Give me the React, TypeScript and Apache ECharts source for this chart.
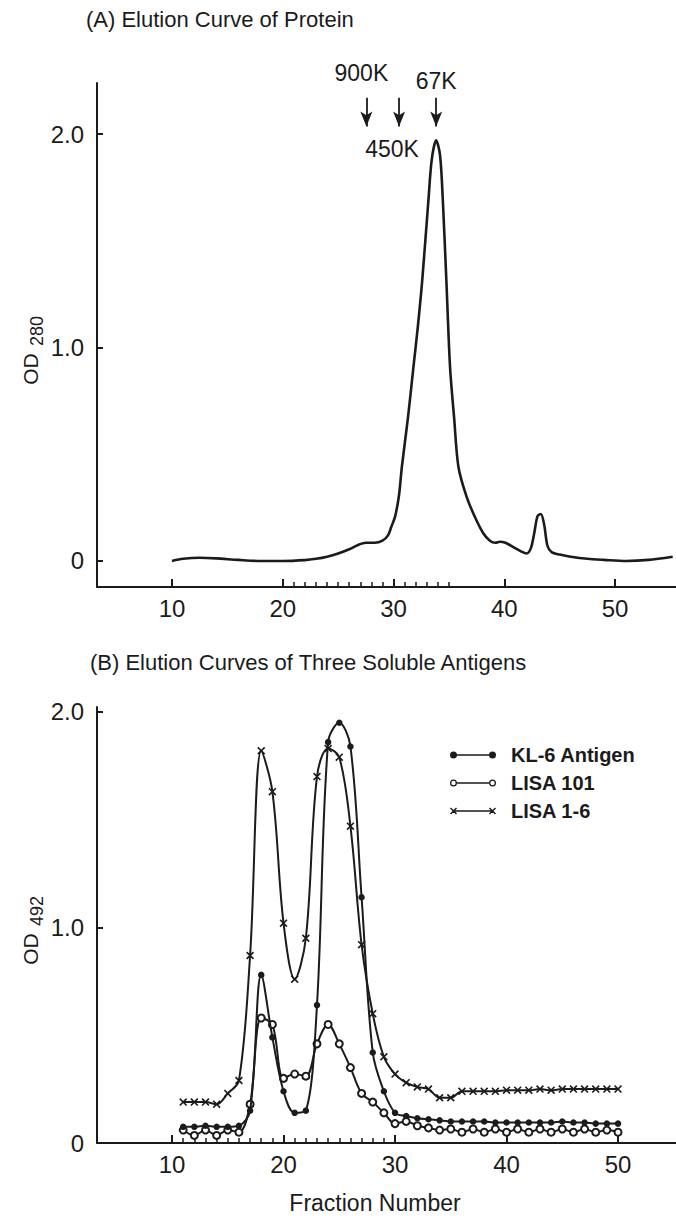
import React, { useEffect, useRef } from "react";
import * as echarts from "echarts";

// ---- Panel A: elution curve of protein (OD280) ----
const proteinFraction = [
  10, 11, 12.5, 14, 16, 18, 20, 22, 23, 24, 25, 26, 26.8, 27.5, 28.3, 29.0, 29.5, 29.8,
  30.15, 30.5, 30.75, 31.3, 31.8, 32.2, 32.6, 33.15, 33.45, 33.85, 34.2, 34.45, 34.78,
  35.1, 35.47, 35.86, 36.6, 37.4, 38.1, 38.7, 39.2, 39.6, 40.1, 40.8, 41.5,
  42.0, 42.4, 42.7, 43.0, 43.3, 43.6, 43.9, 44.3, 45, 46, 47.5, 49, 51, 53, 55.2,
];
const proteinOD = [
  0.0, 0.01, 0.015, 0.012, 0.005, 0.0, 0.0, 0.004, 0.01, 0.02, 0.035, 0.055, 0.075, 0.085,
  0.085, 0.095, 0.12, 0.16, 0.21, 0.31, 0.44, 0.67, 0.91, 1.1, 1.32, 1.69, 1.88, 1.97, 1.9,
  1.69, 1.3, 0.91, 0.67, 0.44, 0.3, 0.2, 0.13, 0.095, 0.085, 0.09, 0.085, 0.065, 0.045,
  0.035, 0.06, 0.13, 0.21, 0.22, 0.17, 0.07, 0.04, 0.03, 0.02, 0.01, 0.005, 0.0, 0.005,
  0.02,
];
// molecular-weight markers (fraction where each arrow points)
const markerNames = ["900K", "450K", "67K"];
const markerFraction = [27.55, 30.5, 33.85];
const arrowFrom = 2.17;
const arrowTo = 2.035;

// ---- Panel B: three soluble antigens (OD492) ----
const fractions = [
  11, 12, 13, 14, 15, 16, 17, 18, 19, 20, 21, 22, 23, 24, 25, 26, 27, 28, 29, 30,
  31, 32, 33, 34, 35, 36, 37, 38, 39, 40, 41, 42, 43, 44, 45, 46, 47, 48, 49, 50,
];
const kl6Antigen = [
  0.075, 0.075, 0.08, 0.075, 0.075, 0.08, 0.15, 0.78, 0.49, 0.24, 0.14, 0.15, 0.64, 1.86,
  1.95, 1.84, 1.14, 0.42, 0.24, 0.14, 0.125, 0.115, 0.11, 0.105, 0.1, 0.1, 0.1, 0.1, 0.095,
  0.095, 0.095, 0.095, 0.095, 0.095, 0.1, 0.095, 0.095, 0.09, 0.09, 0.09,
];
const lisa101 = [
  0.06, 0.035, 0.06, 0.035, 0.06, 0.05, 0.18, 0.58, 0.55, 0.3, 0.32, 0.31, 0.46, 0.55, 0.46,
  0.35, 0.23, 0.19, 0.14, 0.09, 0.1, 0.08, 0.07, 0.06, 0.065, 0.05, 0.065, 0.05, 0.065, 0.05,
  0.065, 0.05, 0.065, 0.05, 0.065, 0.05, 0.065, 0.05, 0.06, 0.05,
];
const lisa16 = [
  0.19, 0.19, 0.19, 0.18, 0.23, 0.29, 0.87, 1.82, 1.63, 1.02, 0.76, 0.95, 1.7, 1.83, 1.79,
  1.47, 0.92, 0.6, 0.4, 0.32, 0.28, 0.26, 0.25, 0.21, 0.21, 0.24, 0.24, 0.24, 0.24, 0.245,
  0.245, 0.245, 0.25, 0.245, 0.25, 0.25, 0.25, 0.25, 0.25, 0.25,
];

// ---- axis ticks ----
const majorTicks = [10, 20, 30, 40, 50];
const minorTicksA = [21, 22, 23, 24, 25, 26, 27, 28, 29, 31, 32, 33, 34, 35];
const minorTicksB = [11, 12, 13, 14, 15, 16, 17, 18, 19, 21, 22, 23, 24, 25, 26, 27, 28, 29];
const yTicks = [0, 1, 2];

const INK = "#1b1b1b";
const TICK_FONT = "'Liberation Sans', Arial, sans-serif";
const TEXT_FONT = "'Liberation Sans', Arial, sans-serif";

const CROSS = "path://M0,1 L1,0 L7,6 L6,7 Z M6,0 L7,1 L1,7 L0,6 Z";
const ICON_FILLED =
  "path://M0,3.5 A3.5,3.5 0 1,1 7,3.5 A3.5,3.5 0 1,1 0,3.5 Z M39,3.5 A3.5,3.5 0 1,1 46,3.5 A3.5,3.5 0 1,1 39,3.5 Z M3.5,2.7 L42.5,2.7 L42.5,4.3 L3.5,4.3 Z";
const ICON_OPEN =
  "path://M0,3.5 A3.5,3.5 0 1,1 7,3.5 A3.5,3.5 0 1,1 0,3.5 Z M1.3,3.5 A2.2,2.2 0 1,0 5.7,3.5 A2.2,2.2 0 1,0 1.3,3.5 Z M39,3.5 A3.5,3.5 0 1,1 46,3.5 A3.5,3.5 0 1,1 39,3.5 Z M40.3,3.5 A2.2,2.2 0 1,0 44.7,3.5 A2.2,2.2 0 1,0 40.3,3.5 Z M7,2.7 L39,2.7 L39,4.3 L7,4.3 Z";
const ICON_CROSS =
  "path://M0,1 L1,0 L7,6 L6,7 Z M6,0 L7,1 L1,7 L0,6 Z M39,1 L40,0 L46,6 L45,7 Z M45,0 L46,1 L40,7 L39,6 Z M3.5,2.8 L42.5,2.8 L42.5,4.2 L3.5,4.2 Z";

const fmtY = (v: number) => (v === 0 ? "0" : v.toFixed(1));

// label placement for each arrow: [position, distance, right padding to shift left]
const markerLabelPlace: [string, number, number][] = [
  ["start", 13, 10],
  ["end", 11, 14],
  ["start", 5, 0],
];

function xMajor(gridIndex: number, min: number, max: number) {
  return {
    type: "value",
    gridIndex,
    min,
    max,
    position: "bottom",
    axisLine: { show: true, onZero: false, lineStyle: { color: INK, width: 2 } },
    axisTick: {
      show: true,
      inside: true,
      length: 8,
      customValues: majorTicks,
      lineStyle: { color: INK, width: 2 },
    },
    axisLabel: {
      show: true,
      customValues: majorTicks,
      margin: 9,
      fontSize: 24,
      fontFamily: TICK_FONT,
      color: INK,
    },
    splitLine: { show: false },
  };
}

function xMinor(gridIndex: number, min: number, max: number, ticks: number[]) {
  return {
    type: "value",
    gridIndex,
    min,
    max,
    position: "bottom",
    axisLine: { show: false, onZero: false },
    axisTick: {
      show: true,
      inside: true,
      length: 5,
      customValues: ticks,
      lineStyle: { color: INK, width: 1.5 },
    },
    axisLabel: { show: false },
    splitLine: { show: false },
  };
}

function yAxisCfg(gridIndex: number, min: number, max: number) {
  return {
    type: "value",
    gridIndex,
    min,
    max,
    axisLine: { show: true, onZero: false, lineStyle: { color: INK, width: 2 } },
    axisTick: {
      show: true,
      inside: true,
      length: 6,
      customValues: yTicks,
      lineStyle: { color: INK, width: 2 },
    },
    axisLabel: {
      show: true,
      customValues: yTicks,
      formatter: fmtY,
      margin: 13,
      fontSize: 24,
      fontFamily: TICK_FONT,
      color: INK,
    },
    splitLine: { show: false },
  };
}

function rotatedText(text: string, x: number, y: number, size: number) {
  return {
    type: "text",
    x,
    y,
    rotation: Math.PI / 2,
    style: {
      text,
      fontSize: size,
      fontFamily: TEXT_FONT,
      fill: INK,
      align: "center",
      verticalAlign: "middle",
      textAlign: "center",
      textVerticalAlign: "middle",
    },
  };
}

function plainText(text: string, x: number, y: number, size: number, align: string) {
  return {
    type: "text",
    x,
    y,
    style: {
      text,
      fontSize: size,
      fontFamily: TEXT_FONT,
      fill: INK,
      align,
      verticalAlign: "middle",
      textAlign: align,
      textVerticalAlign: "middle",
    },
  };
}

function buildOption() {
  const proteinData = proteinFraction.map((f, i) => [f, proteinOD[i]]);
  const lineCommon = {
    type: "line",
    xAxisIndex: 2,
    yAxisIndex: 1,
    smooth: 0.35,
    showSymbol: true,
    showAllSymbol: true,
    emphasis: { disabled: true },
    color: INK,
    lineStyle: { color: INK, width: 2 },
  };
  return {
    animation: false,
    backgroundColor: "#ffffff",
    grid: [
      { left: 97, top: 83, width: 579, height: 504, containLabel: false },
      { left: 97, top: 707, width: 579, height: 436, containLabel: false },
    ],
    xAxis: [
      xMajor(0, 3.23, 55.5),
      xMinor(0, 3.23, 55.5, minorTicksA),
      xMajor(1, 3.27, 55.2),
      xMinor(1, 3.27, 55.2, minorTicksB),
    ],
    yAxis: [yAxisCfg(0, -0.122, 2.239), yAxisCfg(1, 0, 2.023)],
    legend: {
      orient: "vertical",
      left: 445,
      top: 740,
      itemWidth: 46,
      itemHeight: 7,
      itemGap: 8,
      selectedMode: false,
      itemStyle: { borderWidth: 0 },
      textStyle: {
        fontSize: 20,
        fontWeight: "bold",
        fontFamily: TEXT_FONT,
        color: INK,
        lineHeight: 20,
        padding: [0, 0, 0, 10],
      },
      data: [
        { name: "KL-6 Antigen", icon: ICON_FILLED, itemStyle: { color: INK, borderWidth: 0 } },
        { name: "LISA 101", icon: ICON_OPEN, itemStyle: { color: INK, borderWidth: 0 } },
        { name: "LISA 1-6", icon: ICON_CROSS, itemStyle: { color: INK, borderWidth: 0 } },
      ],
    },
    graphic: {
      elements: [
        plainText("(A) Elution Curve of Protein", 86, 19, 22, "left"),
        plainText("(B) Elution Curves of Three Soluble Antigens", 90, 662, 22, "left"),
        rotatedText("OD", 30.5, 369, 21),
        rotatedText("280", 36.5, 331, 18),
        rotatedText("OD", 30.5, 949, 21),
        rotatedText("492", 36.5, 911, 18),
        plainText("Fraction Number", 375, 1203, 23, "center"),
      ],
    },
    series: [
      {
        name: "Protein",
        type: "line",
        xAxisIndex: 0,
        yAxisIndex: 0,
        data: proteinData,
        smooth: 0.3,
        showSymbol: false,
        emphasis: { disabled: true },
        lineStyle: { color: INK, width: 2.6 },
        markLine: {
          silent: true,
          symbol: ["none", "arrow"],
          symbolSize: [9, 15],
          emphasis: { disabled: true },
          lineStyle: { type: "solid", color: INK, width: 1.8 },
          label: {
            show: true,
            fontSize: 23,
            fontFamily: TEXT_FONT,
            color: INK,
          },
          data: markerFraction.map((f, i) => [
            {
              coord: [f, arrowFrom],
              label: {
                show: true,
                formatter: markerNames[i],
                position: markerLabelPlace[i][0],
                distance: markerLabelPlace[i][1],
                padding: [0, markerLabelPlace[i][2], 0, 0],
                fontSize: 23,
                fontFamily: TEXT_FONT,
                color: INK,
              },
            },
            { coord: [f, arrowTo] },
          ]),
        },
      },
      {
        ...lineCommon,
        name: "LISA 1-6",
        data: fractions.map((f, i) => [f, lisa16[i]]),
        symbol: CROSS,
        symbolSize: 8,
        itemStyle: { color: INK },
        z: 3,
      },
      {
        ...lineCommon,
        name: "LISA 101",
        data: fractions.map((f, i) => [f, lisa101[i]]),
        symbol: "emptyCircle",
        symbolSize: 7,
        itemStyle: { color: INK, borderColor: INK, borderWidth: 1.4 },
        z: 4,
      },
      {
        ...lineCommon,
        name: "KL-6 Antigen",
        data: fractions.map((f, i) => [f, kl6Antigen[i]]),
        symbol: "circle",
        symbolSize: 6.5,
        itemStyle: { color: INK },
        z: 5,
      },
    ],
  };
}

export default function App() {
  const ref = useRef<HTMLDivElement>(null);
  useEffect(() => {
    document.body.style.margin = "0";
    const chart = echarts.init(ref.current as HTMLDivElement, null, { renderer: "svg" });
    chart.setOption(buildOption() as any);
    return () => {
      chart.dispose();
    };
  }, []);
  return <div ref={ref} style={{ width: 676, height: 1222, background: "#fff" }} />;
}
